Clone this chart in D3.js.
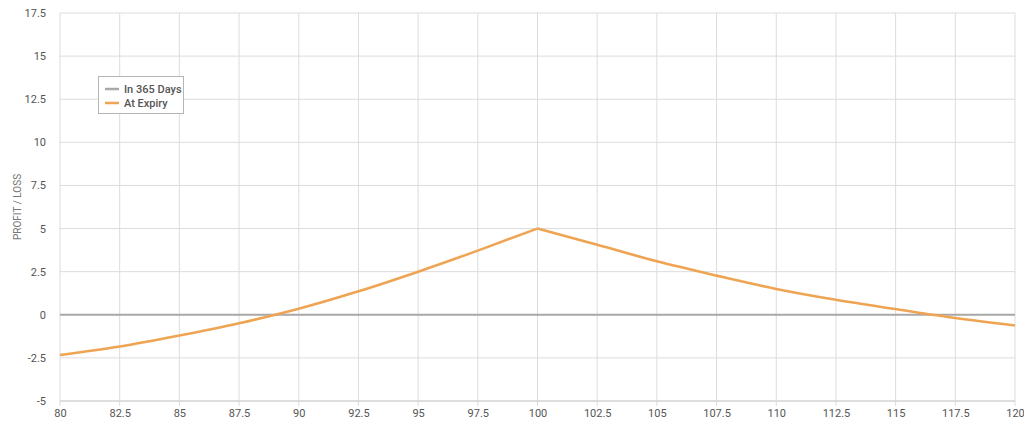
<!DOCTYPE html>
<html><head><meta charset="utf-8">
<script src="https://cdn.jsdelivr.net/npm/d3@7"></script>
<style>
body{margin:0;background:#fff;}
text{font-family:"Roboto","Liberation Sans",sans-serif;}
</style></head>
<body><svg id="c" width="1024" height="427"></svg>
<script>
const xTicks = [80,82.5,85,87.5,90,92.5,95,97.5,100,102.5,105,107.5,110,112.5,115,117.5,120];
const xTickLabels = ["80","82.5","85","87.5","90","92.5","95","97.5","100","102.5","105","107.5","110","112.5","115","117.5","120"];
const yTicks = [-5,-2.5,0,2.5,5,7.5,10,12.5,15,17.5];
const yTickLabels = ["-5","-2.5","0","2.5","5","7.5","10","12.5","15","17.5"];
const prices = [80,82.5,85,87.5,90,92.5,95,97.5,100,102.5,105,107.5,110,112.5,115,117.5,120];
const atExpiry = [-2.33,-1.84,-1.2,-0.49,0.35,1.36,2.5,3.72,5,4.06,3.1,2.27,1.5,0.87,0.33,-0.19,-0.62];
const in365Days = [0,0,0,0,0,0,0,0,0,0,0,0,0,0,0,0,0];
const seriesNames = ["In 365 Days","At Expiry"];
const yTitle = "PROFIT / LOSS";

const svg = d3.select("#c");
const L=60,R=1015,T=13,B=401;
const x = d3.scaleLinear().domain([80,120]).range([L,R]);
const y = d3.scaleLinear().domain([-5,17.5]).range([B,T]);
const grid = "#dcdcdc";

svg.append("g").selectAll("line").data(yTicks).join("line")
  .attr("x1",L).attr("x2",R).attr("y1",d=>y(d)).attr("y2",d=>y(d))
  .attr("stroke",grid).attr("stroke-width",1);
svg.append("g").selectAll("line").data(xTicks).join("line")
  .attr("y1",T).attr("y2",B+5).attr("x1",d=>x(d)).attr("x2",d=>x(d))
  .attr("stroke",grid).attr("stroke-width",1);
svg.append("line").attr("x1",L).attr("x2",R).attr("y1",B).attr("y2",B).attr("stroke","#cfcfcf");

const xa = d3.axisBottom(x).tickValues(xTicks).tickFormat((d,i)=>xTickLabels[i]).tickSize(0).tickPadding(8);
const gx = svg.append("g").attr("transform",`translate(0,${B})`).call(xa);
gx.select(".domain").remove();
gx.selectAll("text").attr("fill","#555").style("font-size","11px").style("font-family","Roboto");
const ya = d3.axisLeft(y).tickValues(yTicks).tickFormat((d,i)=>yTickLabels[i]).tickSize(0).tickPadding(14);
const gy = svg.append("g").attr("transform",`translate(${L},0)`).call(ya);
gy.select(".domain").remove();
gy.selectAll("text").attr("fill","#555").style("font-size","11px").style("font-family","Roboto");

svg.append("text").attr("transform",`translate(21,${(T+B)/2}) rotate(-90)`)
  .attr("text-anchor","middle").attr("fill","#777").style("font-size","10px").text(yTitle);

const pts = prices.map((p,i)=>({x:p,e:atExpiry[i],g:in365Days[i]}));
svg.append("path").datum(pts).attr("fill","none").attr("stroke","#a9a9a9").attr("stroke-width",2)
  .attr("d",d3.line().x(d=>x(d.x)).y(d=>y(d.g)));
const line = d3.line().x(d=>x(d.x)).y(d=>y(d.e)).curve(d3.curveMonotoneX);
const peak = atExpiry.indexOf(d3.max(atExpiry));
[pts.slice(0,peak+1), pts.slice(peak)].forEach(seg=>{
  svg.append("path").datum(seg).attr("fill","none").attr("stroke","#eea452")
    .attr("stroke-width",2.6).attr("stroke-linejoin","round").attr("d",line);
});

const lg = svg.append("g").attr("transform","translate(98,76)");
lg.append("rect").attr("x",0.5).attr("y",0.5).attr("width",85).attr("height",37)
  .attr("fill","#fff").attr("stroke","#b5b5b5");
const colors=["#a9a9a9","#eea452"];
seriesNames.forEach((n,i)=>{
  lg.append("line").attr("x1",7).attr("x2",21).attr("y1",13+i*14).attr("y2",13+i*14)
    .attr("stroke",colors[i]).attr("stroke-width",2.5);
  lg.append("text").attr("x",26).attr("y",17+i*14).attr("fill","#555")
    .style("font-size","11px").style("font-weight","500").text(n);
});
</script></body></html>
